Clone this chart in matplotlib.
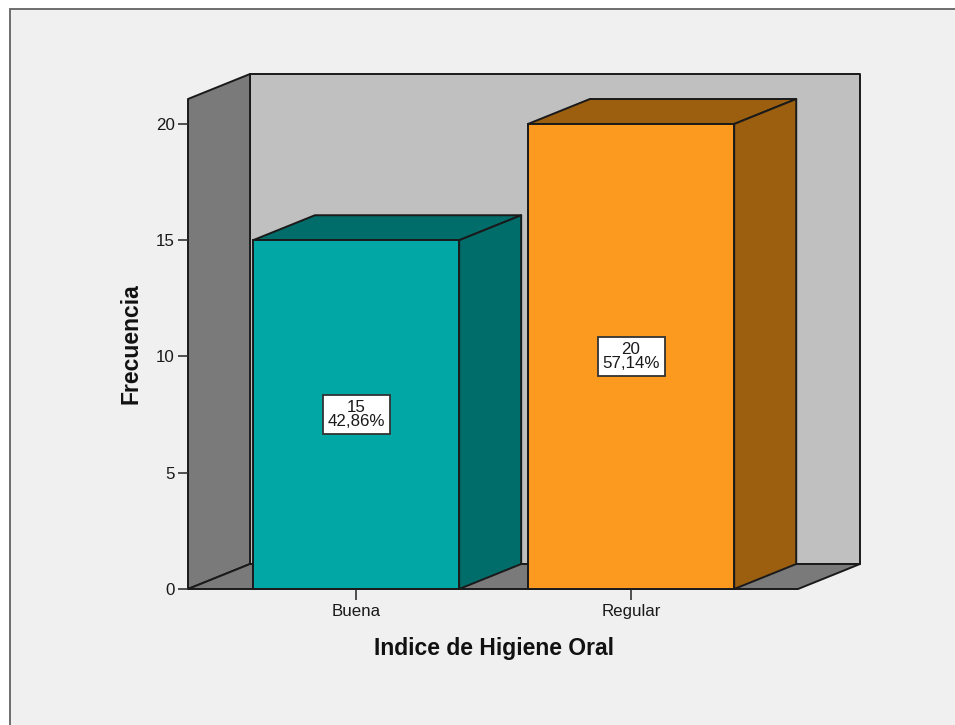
import matplotlib
matplotlib.use('Agg')
import matplotlib.pyplot as plt
from matplotlib.patches import Polygon, Rectangle

plt.rcParams['font.family'] = ['Liberation Sans', 'DejaVu Sans']

#%% Datos
categorias = ['Buena', 'Regular']
frecuencias = [15, 20]
porcentajes = ['42,86%', '57,14%']
ticks_y = [0, 5, 10, 15, 20]

color_frente = ['#00A7A5', '#FB9A1E']
color_lado = ['#006D6B', '#9C5F10']
color_borde = '#1A1A1A'

W, H = 955, 725
ancho_barra = 0.75
# profundidad del efecto 3D, en unidades de datos
prof_x = 0.2255
prof_y = 1.075

#%% Figura y ejes
fig = plt.figure(figsize=(W / 100, H / 100), dpi=100, facecolor='white')

# panel gris de fondo con su marco
fig.add_artist(Rectangle((9.5 / W, -0.01), 1.02, 1 - 8.5 / H + 0.01, transform=fig.transFigure,
                         facecolor='#F0F0F0', edgecolor='#6E6E6E', linewidth=1.4, zorder=-1))

ax = fig.add_axes([188 / W, 1 - 589 / H, 610 / W, 490 / H])
ax.patch.set_visible(False)
ax.set_xlim(-0.611, 1.607)
ax.set_ylim(0, 21.075)
x0, x1 = ax.get_xlim()
y0, y1 = ax.get_ylim()


def cara(puntos, color, z):
    ax.add_patch(Polygon(puntos, closed=True, facecolor=color, edgecolor=color_borde,
                         linewidth=1.4, joinstyle='round', clip_on=False, zorder=z))


# pared del fondo, pared lateral y piso
cara([(x0 + prof_x, y0 + prof_y), (x1 + prof_x, y0 + prof_y), (x1 + prof_x, y1 + prof_y), (x0 + prof_x, y1 + prof_y)], '#C0C0C0', 1)
cara([(x0, y0), (x0 + prof_x, y0 + prof_y), (x0 + prof_x, y1 + prof_y), (x0, y1)], '#7A7A7A', 1.1)
cara([(x0, y0), (x1, y0), (x1 + prof_x, y0 + prof_y), (x0 + prof_x, y0 + prof_y)], '#7A7A7A', 1.2)

#%% Barras
for i, f in enumerate(frecuencias):
    izq = i - ancho_barra / 2
    der = i + ancho_barra / 2
    cara([(izq, f), (der, f), (der + prof_x, f + prof_y), (izq + prof_x, f + prof_y)], color_lado[i], 2)
    cara([(der, 0), (der + prof_x, prof_y), (der + prof_x, f + prof_y), (der, f)], color_lado[i], 2)
    ax.bar(i, f, width=ancho_barra, color=color_frente[i], edgecolor=color_borde, linewidth=1.4, zorder=3, clip_on=False)
    ax.text(i, f / 2, '%d\n%s' % (f, porcentajes[i]), ha='center', va='center', fontsize=12.2,
            color='#1A1A1A', linespacing=0.95, zorder=5,
            bbox=dict(boxstyle='square,pad=0.28', facecolor='white', edgecolor='#333333', linewidth=1.3))

#%% Ejes y textos
for lado in ax.spines.values():
    lado.set_visible(False)

ax.set_xticks(range(len(categorias)))
ax.set_xticklabels(categorias)
ax.set_yticks(ticks_y)
ax.tick_params(axis='x', length=8, width=1.2, color='#333333', labelsize=12.2, labelcolor='#1A1A1A', pad=3)
ax.tick_params(axis='y', length=7.5, width=1.2, color='#333333', labelsize=12.2, labelcolor='#1A1A1A', pad=2)

fig.text(494 / W, 1 - 648 / H, 'Indice de Higiene Oral', ha='center', va='center',
         fontsize=16.5, fontweight='bold', color='#111111')
fig.text(131 / W, 1 - 344 / H, 'Frecuencia', rotation=90, ha='center', va='center',
         fontsize=16.5, fontweight='bold', color='#111111')

plt.savefig('out.png', dpi=100, facecolor=fig.get_facecolor())
